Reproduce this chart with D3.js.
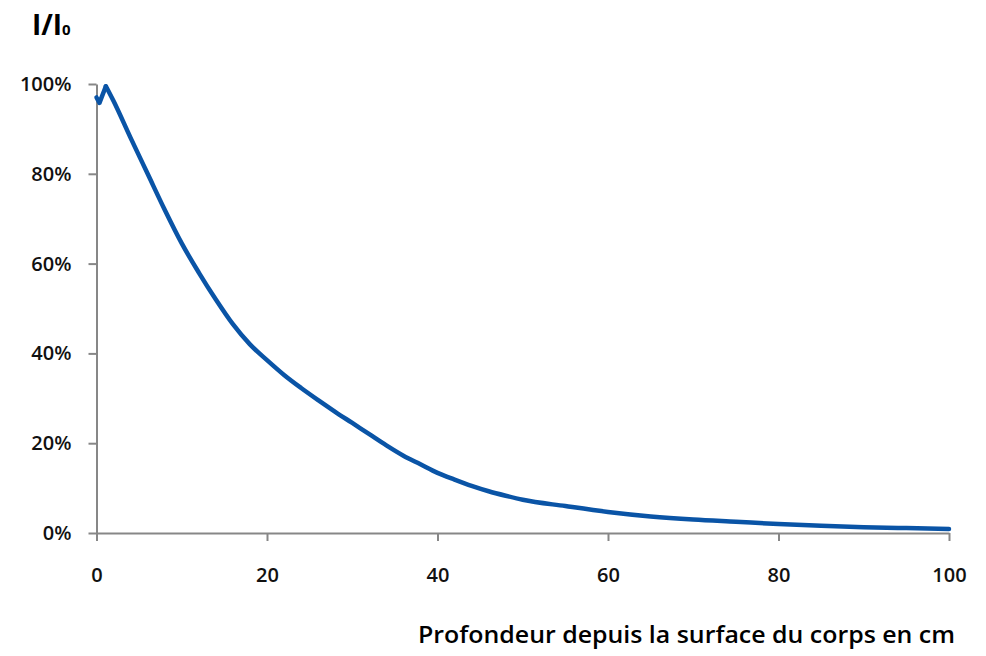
<!DOCTYPE html>
<html>
<head>
<meta charset="utf-8">
<script src="https://cdn.jsdelivr.net/npm/d3@7"></script>
<style>
  body { margin: 0; background: #fff; }
  svg { display: block; }
</style>
</head>
<body>
<div id="grafico"></div>
<script>
const WIDTH = 986;
const HEIGHT = 656;

// depth in cm
const depths = [0, 0.35, 1.1, 2, 4, 6, 8, 10, 12, 14, 16, 18, 20, 22, 24, 26, 28, 30,
    32, 34, 36, 38, 40, 42, 44, 46, 48, 50, 55, 60, 65, 70, 75, 80, 85, 90, 95, 100];
// relative intensity I/I0
const intensity = [0.97, 0.958, 0.995, 0.962, 0.88, 0.80, 0.72, 0.645, 0.58, 0.52, 0.465, 0.42, 0.385,
    0.352, 0.323, 0.296, 0.27, 0.245, 0.22, 0.195, 0.172, 0.153, 0.134, 0.119, 0.105, 0.093,
    0.083, 0.074, 0.06, 0.047, 0.037, 0.03, 0.025, 0.02, 0.016, 0.013, 0.011, 0.009];

const xTicks = [0, 20, 40, 60, 80, 100];
const yTicks = [0, 0.2, 0.4, 0.6, 0.8, 1.0];

const points = depths.map((d, i) => ({x: d, y: intensity[i]}));
const peak = 2; // index of the sharp peak near the surface

let svg = d3.select("#grafico")
    .append("svg")
    .attr("width", WIDTH)
    .attr("height", HEIGHT);

let x = d3.scaleLinear().domain([0, 100]).range([96.5, 949]);
let y = d3.scaleLinear().domain([0, 1]).range([533, 84]);

const axisColor = "#878787";
const font = "'Open Sans', Calibri, sans-serif";

// y axis
let yAxis = svg.append("g")
    .attr("transform", "translate(96.5,0)")
    .call(d3.axisLeft(y)
        .tickValues(yTicks)
        .tickFormat(d3.format(".0%"))
        .tickSize(8)
        .tickSizeOuter(0)
        .tickPadding(17));

// x axis
let xAxis = svg.append("g")
    .attr("transform", "translate(0,533)")
    .call(d3.axisBottom(x)
        .tickValues(xTicks)
        .tickSize(8)
        .tickSizeOuter(0)
        .tickPadding(27));

[yAxis, xAxis].forEach(g => {
    g.select(".domain").attr("stroke", axisColor).attr("stroke-width", 2);
    g.selectAll(".tick line").attr("stroke", axisColor).attr("stroke-width", 2);
    g.selectAll(".tick text")
        .style("font-family", font)
        .style("font-size", "20px")
        .style("font-weight", "600")
        .attr("fill", "#111");
});

// curve: sharp hook at the surface, smooth decay after the peak
let hookLine = d3.line()
    .x(d => x(d.x))
    .y(d => y(d.y))
    .curve(d3.curveLinear);

let decayLine = d3.line()
    .x(d => x(d.x))
    .y(d => y(d.y))
    .curve(d3.curveMonotoneX);

let curve = svg.append("g")
    .attr("fill", "none")
    .attr("stroke", "#0a54a6")
    .attr("stroke-width", 4.5)
    .attr("stroke-linejoin", "round")
    .attr("stroke-linecap", "round");

curve.append("path")
    .datum(points.slice(0, peak + 1))
    .attr("d", hookLine);

curve.append("path")
    .datum(points.slice(peak))
    .attr("d", decayLine);

// title I/I0
let title = svg.append("text")
    .attr("x", 32)
    .attr("y", 35)
    .style("font-family", font)
    .style("font-size", "28px")
    .style("font-weight", "bold")
    .attr("fill", "#000");
title.append("tspan").text("I/I");
title.append("tspan")
    .style("font-size", "15px")
    .text("0");

// x axis label
svg.append("text")
    .attr("x", 418)
    .attr("y", 643)
    .attr("textLength", 537)
    .attr("lengthAdjust", "spacingAndGlyphs")
    .style("font-family", font)
    .style("font-size", "23px")
    .style("font-weight", "600")
    .attr("fill", "#000")
    .text("Profondeur depuis la surface du corps en cm");
</script>
</body>
</html>
